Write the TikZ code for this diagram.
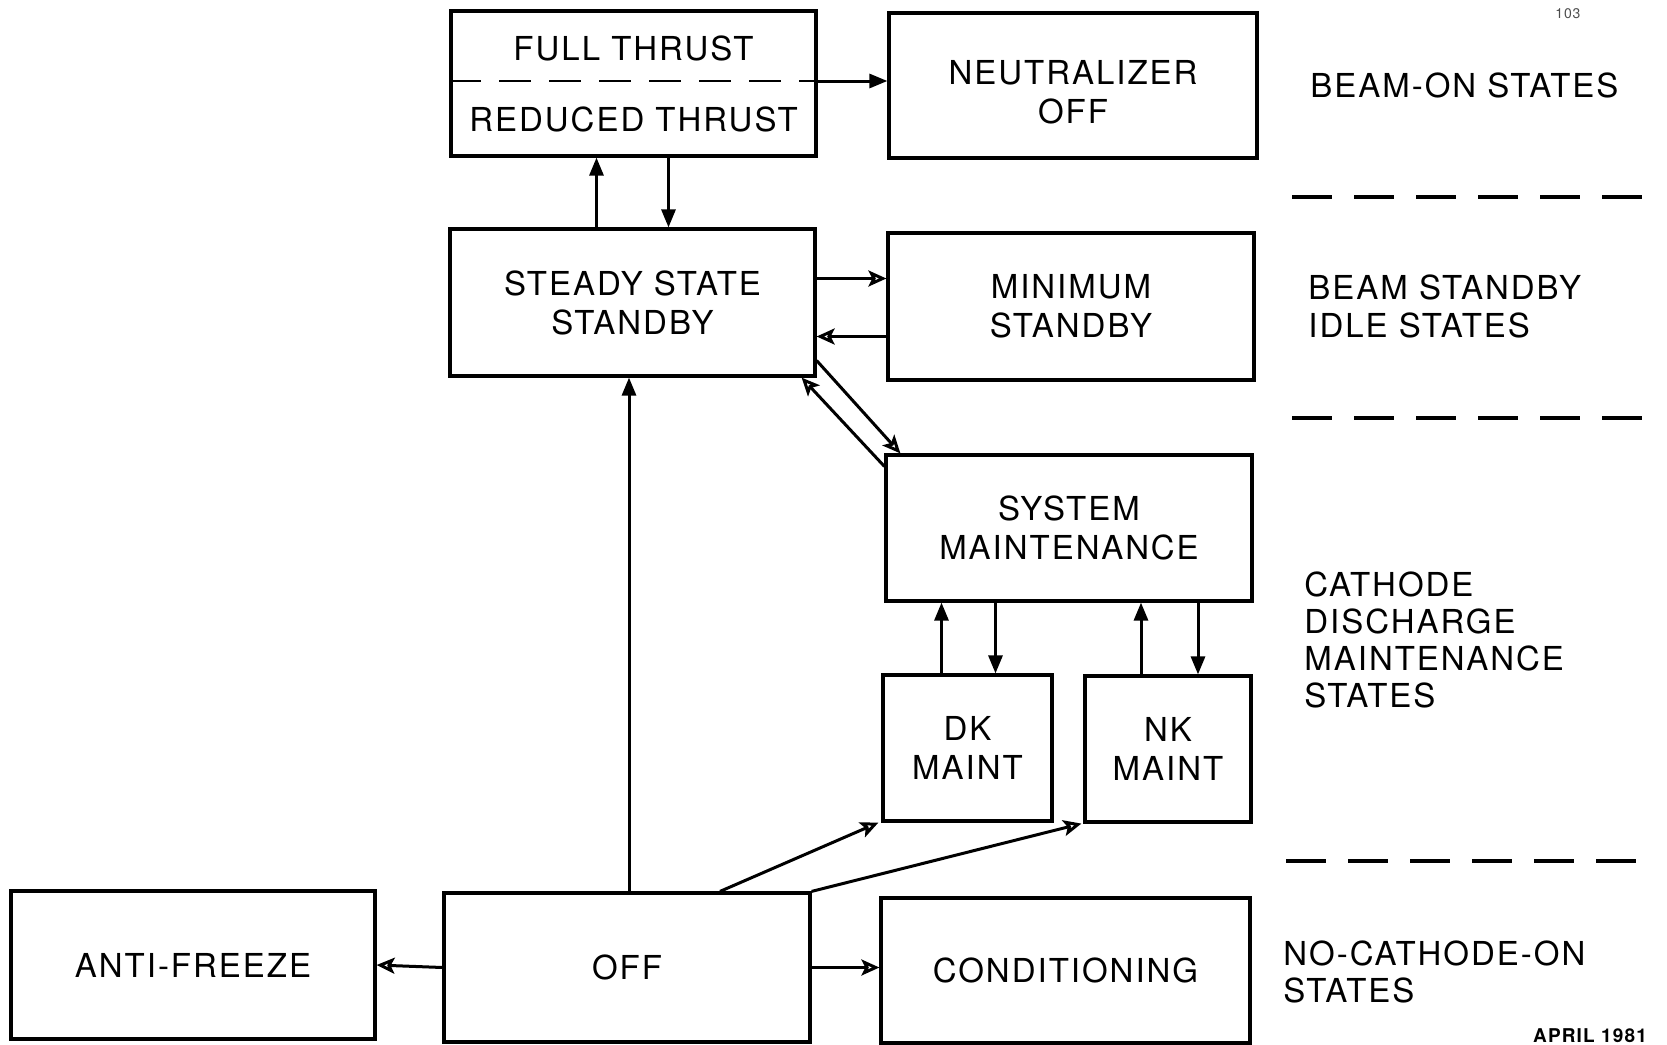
\documentclass[tikz,border=0pt]{standalone}
\usepackage{fontspec}
\setmainfont{TeX Gyre Heros}[LetterSpace=6]
\usetikzlibrary{arrows.meta}

\begin{document}
\begin{tikzpicture}[x=0.5pt, y=-0.5pt,
  statebox/.style={draw, rectangle, line width=1.6pt, align=center,
    font=\fontsize{16.5}{19.5}\selectfont},
  sidelabel/.style={anchor=west, inner sep=0pt, align=left,
    font=\fontsize{16.5}{19}\selectfont},
  arr/.style={line width=1.5pt, -{Triangle[length=9pt, width=7pt]}},
  oarr/.style={line width=1.5pt, -{Stealth[open, length=9pt, width=8pt, inset=2pt]}},
  divider/.style={line width=1.7pt, dash pattern=on 20pt off 11pt}]
\useasboundingbox (0,0) rectangle (1667,1045);

\node[statebox, minimum width=182.5pt, minimum height=72.5pt] (thrust) at (633.5,83.5)
  {FULL THRUST\\[16pt]REDUCED THRUST};
\node[statebox, minimum width=184pt, minimum height=72.5pt] (neut) at (1073,85.5)
  {\rule{0pt}{18.5pt}NEUTRALIZER\\OFF};

\node[statebox, minimum width=182.5pt, minimum height=73.5pt] (steady) at (632.5,302.5) {STEADY STATE\\STANDBY};
\node[statebox, minimum width=183pt, minimum height=73.5pt] (minst) at (1071,306.5) {MINIMUM\\STANDBY};

\node[statebox, minimum width=183pt, minimum height=73pt] (sysm) at (1069,528) {SYSTEM\\MAINTENANCE};
\node[statebox, minimum width=84.5pt, minimum height=73pt] (dk) at (967.5,748) {DK\\MAINT};
\node[statebox, minimum width=83pt, minimum height=73pt] (nk) at (1168,749) {NK\\MAINT};

\node[statebox, minimum width=182pt, minimum height=74pt] (afreeze) at (193,965) {ANTI-FREEZE};
\node[statebox, minimum width=183pt, minimum height=74.5pt] (off) at (627,967.5) {OFF};
\node[statebox, minimum width=184.5pt, minimum height=72.5pt] (cond) at (1065.5,970.5) {CONDITIONING};

% split inside the thrust box
\draw[line width=1.4pt, dash pattern=on 16pt off 9pt] ([yshift=1.25pt]thrust.west) -- ([yshift=1.25pt]thrust.east);
\draw[arr] ([yshift=1.25pt]thrust.east) -- ([yshift=1.25pt]thrust.east -| neut.west);

\draw[arr] ([xshift=-18pt]steady.north) -- ([xshift=-18pt]steady.north |- thrust.south);
\draw[arr] ([xshift=17.5pt]thrust.south) -- ([xshift=17.5pt]thrust.south |- steady.north);

\draw[oarr] ([yshift=12pt]steady.east) -- ([yshift=12pt]steady.east -| minst.west);
\draw[oarr] ([yshift=-15pt]minst.west) -- ([yshift=-15pt]minst.west -| steady.east);

\draw[oarr] ([yshift=-29pt]steady.east) -- ([xshift=8pt]sysm.north west);
\draw[oarr] ([yshift=-6.5pt]sysm.north west) -- ([xshift=-7.5pt]steady.south east);

\draw[arr] ([xshift=-13pt]dk.north) -- ([xshift=-13pt]dk.north |- sysm.south);
\draw[arr] ([xshift=14pt]dk.north |- sysm.south) -- ([xshift=14pt]dk.north);
\draw[arr] ([xshift=-13.5pt]nk.north) -- ([xshift=-13.5pt]nk.north |- sysm.south);
\draw[arr] ([xshift=15pt]nk.north |- sysm.south) -- ([xshift=15pt]nk.north);

\draw[arr] ([xshift=1pt]off.north) -- ([xshift=1pt]off.north |- steady.south);
\draw[oarr] ([xshift=46.5pt]off.north) -- ([xshift=-1.5pt]dk.south west);
\draw[oarr] (off.north east) -- ([xshift=-1pt]nk.south west);
\draw[oarr] (off.west) -- (afreeze.east);
\draw[oarr] (off.east) -- (off.east -| cond.west);

% state groups on the right
\node[sidelabel] (lbeamon) at (1310,85) {BEAM-ON STATES};
\node[sidelabel] (lidle) at (1308,306) {BEAM STANDBY\\IDLE STATES};
\node[sidelabel, font=\fontsize{16.5}{18.5}\selectfont] (lcath) at (1304,640) {CATHODE\\DISCHARGE\\MAINTENANCE\\STATES};
\node[sidelabel, font=\fontsize{16.5}{18.5}\selectfont] (lnocath) at (1283,972) {NO-CATHODE-ON\\STATES};

\coordinate (d1l) at (1292,197);
\coordinate (d1r) at (1660,197);
\coordinate (d2l) at (1292,418);
\coordinate (d2r) at (1660,418);
\coordinate (d3l) at (1286,861);
\coordinate (d3r) at (1656,861);
\draw[divider] (d1l) -- (d1r);
\draw[divider] (d2l) -- (d2r);
\draw[divider] (d3l) -- (d3r);

\node[font=\bfseries\fontsize{9.5}{11}\selectfont, inner sep=0pt] (date) at (1590,1036) {APRIL 1981};
\node[font=\fontsize{7}{8}\selectfont, inner sep=0pt, text=black!70] (pgno) at (1568,14) {103};
\end{tikzpicture}
\end{document}
